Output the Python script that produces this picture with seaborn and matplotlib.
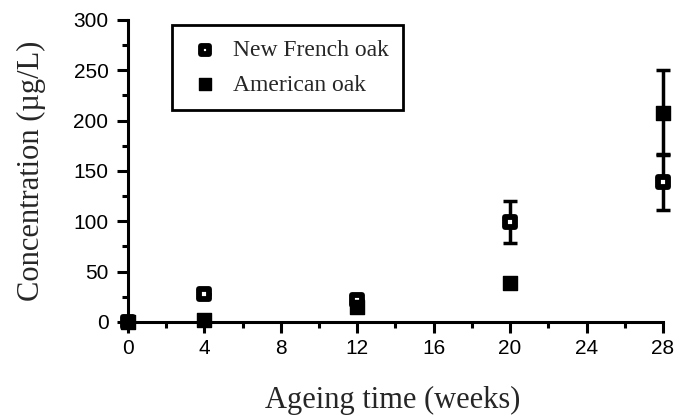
import matplotlib
matplotlib.use("Agg")
import matplotlib.pyplot as plt
import seaborn as sns
import numpy as np
from matplotlib.ticker import MultipleLocator

weeks = [0, 4, 12, 20, 28]
french = [0, 28, 22, 99, 139]
french_err = [0, 0, 0, 21, 28]
american = [0, 2, 15, 39, 208]
american_err = [0, 0, 0, 0, 42]

sns.set_style("ticks")
plt.rcParams['font.family'] = ['Liberation Sans', 'DejaVu Sans']

fig = plt.figure(figsize=(6.8, 4.18), dpi=100)
ax = fig.add_axes([0.188, 0.2297, 0.787, 0.7225])

ax.errorbar(weeks, french, yerr=french_err, fmt='none', ecolor='black',
            elinewidth=2.5, capsize=5, capthick=2.5, zorder=2, clip_on=False)
ax.errorbar(weeks, american, yerr=american_err, fmt='none', ecolor='black',
            elinewidth=2.5, capsize=5, capthick=2.5, zorder=2, clip_on=False)

sns.scatterplot(x=weeks, y=french, ax=ax, marker='s', s=42, color='white',
                edgecolor='black', linewidth=4.2, label='New French oak', zorder=3, clip_on=False)
sns.scatterplot(x=weeks, y=american, ax=ax, marker='s', s=100, color='black',
                edgecolor='black', linewidth=1, label='American oak', zorder=4, clip_on=False)

ax.set_xlim(0, 28)
ax.set_ylim(0, 300)
ax.xaxis.set_major_locator(MultipleLocator(4))
ax.xaxis.set_minor_locator(MultipleLocator(2))
ax.yaxis.set_major_locator(MultipleLocator(50))
ax.yaxis.set_minor_locator(MultipleLocator(25))
sns.despine(ax=ax)
for sp in ['left', 'bottom']:
    ax.spines[sp].set_linewidth(2.2)
    ax.spines[sp].set_color('black')
ax.tick_params(which='major', direction='out', length=8, width=2.2, colors='black', labelsize=15)
ax.tick_params(which='minor', direction='out', length=4, width=2.2, colors='black')
ax.tick_params(axis='x', which='major', pad=4)
ax.tick_params(axis='y', which='major', pad=6)

serif = ['Liberation Serif', 'DejaVu Serif']
ax.set_xlabel('Ageing time (weeks)', family=serif, fontsize=22)
ax.set_ylabel('Concentration (µg/L)', family=serif, fontsize=22)
ax.xaxis.set_label_coords(0.494, -0.212)
ax.yaxis.set_label_coords(-0.152, 0.5)

h, l = ax.get_legend_handles_labels()
order = [l.index('New French oak'), l.index('American oak')]
leg = ax.legend([h[i] for i in order], [l[i] for i in order], loc='upper left',
                bbox_to_anchor=(0.082, 0.983), borderaxespad=0, frameon=True,
                fancybox=False, edgecolor='black', prop={'family': serif, 'size': 17},
                borderpad=0.6, labelspacing=0.56, handletextpad=0.38, handlelength=1.6,
                markerscale=0.8)
leg.get_frame().set_linewidth(2)
leg.get_frame().set_alpha(1)

fig.savefig('out.png', dpi=100)
